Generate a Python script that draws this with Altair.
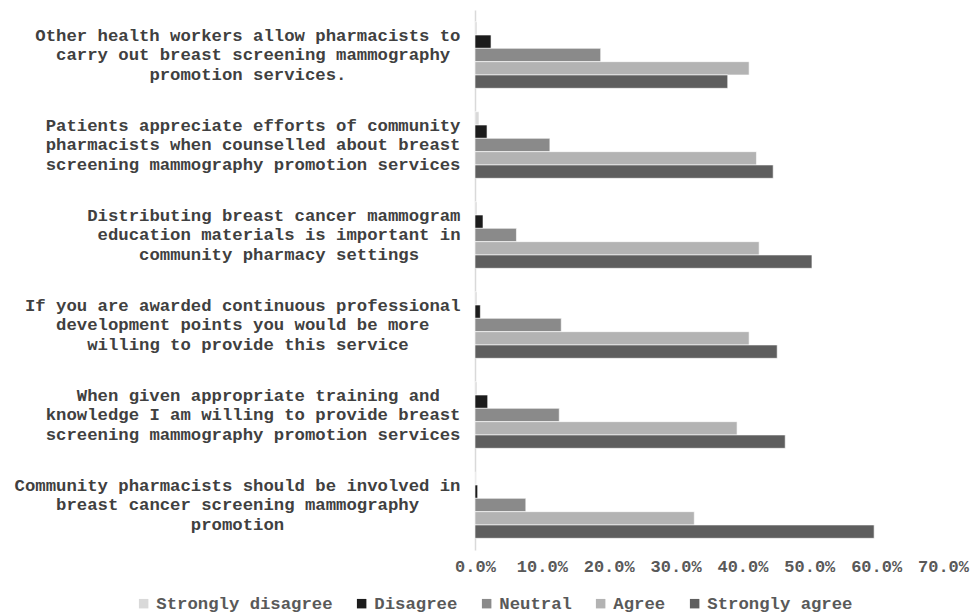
import altair as alt
import pandas as pd

questions = [
    ["Other health workers allow pharmacists to",
     "carry out breast screening mammography",
     "promotion services."],
    ["Patients appreciate efforts of community",
     "pharmacists when counselled about breast",
     "screening mammography promotion services"],
    ["Distributing breast cancer mammogram",
     "education materials is important in",
     "community pharmacy settings"],
    ["If you are awarded continuous professional",
     "development points you would be more",
     "willing to provide this service"],
    ["When given appropriate training and",
     "knowledge I am willing to provide breast",
     "screening mammography promotion services"],
    ["Community pharmacists should be involved in",
     "breast cancer screening mammography",
     "promotion"],
]

responses = ["Strongly disagree", "Disagree", "Neutral", "Agree", "Strongly agree"]
colors = ["#d9d9d9", "#1c1c1c", "#8a8a8a", "#b3b3b3", "#5e5e5e"]

strongly_disagree = [0.3, 0.6, 0.3, 0.3, 0.3, 0.0]
disagree = [2.4, 1.8, 1.2, 0.8, 1.9, 0.4]
neutral = [18.8, 11.2, 6.2, 12.9, 12.6, 7.6]
agree = [41.0, 42.1, 42.5, 41.0, 39.2, 32.8]
strongly_agree = [37.8, 44.6, 50.4, 45.2, 46.4, 59.7]

series = [strongly_disagree, disagree, neutral, agree, strongly_agree]

NBSP = "\u00a0"
ZWJ = "\u200d"


def center_block(lines):
    # right-aligned lines, padded on the right so each block reads centred
    w = max(len(l) for l in lines)
    out = []
    for l in lines:
        pad = (w - len(l)) // 2
        out.append(l + NBSP * pad + ZWJ)
    return "|".join(out)


labels = [center_block(q) for q in questions]

rows = []
for qi, lab in enumerate(labels):
    for ri, resp in enumerate(responses):
        rows.append({"question": lab, "response": resp, "value": series[ri][qi] / 100})
df = pd.DataFrame(rows)

FONT = "Liberation Mono"

bars = alt.Chart(df).mark_bar(stroke="white", strokeWidth=0.6).encode(
    y=alt.Y(
        "question:N",
        sort=labels,
        title=None,
        scale=alt.Scale(paddingInner=0.26, paddingOuter=0.13),
        axis=alt.Axis(
            labelExpr="split(datum.label, '|')",
            labelFont=FONT,
            labelFontWeight="bold",
            labelFontSize=17.3,
            labelColor="#404040",
            labelAlign="right",
            labelBaseline="middle",
            labelLineHeight=19.5,
            labelOffset=-19.5,
            labelPadding=15,
            labelLimit=0,
            ticks=False,
            domain=True,
            domainColor="#d9d9d9",
            domainWidth=1.5,
            grid=False,
        ),
    ),
    yOffset=alt.YOffset("response:N", sort=responses, scale=alt.Scale(paddingInner=0, paddingOuter=0)),
    x=alt.X(
        "value:Q",
        title=None,
        scale=alt.Scale(domain=[0, 0.7], nice=False),
        axis=alt.Axis(
            format=".1%",
            values=[0, 0.1, 0.2, 0.3, 0.4, 0.5, 0.6, 0.7],
            labelFont=FONT,
            labelFontWeight="bold",
            labelFontSize=17,
            labelColor="#595959",
            labelPadding=8,
            labelOverlap=False,
            labelFlush=False,
            ticks=False,
            domain=False,
            grid=False,
        ),
    ),
    color=alt.Color(
        "response:N",
        sort=responses,
        scale=alt.Scale(domain=responses, range=colors),
        legend=alt.Legend(
            title=None,
            orient="none",
            direction="horizontal",
            columns=5,
            legendX=-340,
            legendY=585,
            symbolType="square",
            symbolSize=90,
            symbolStrokeWidth=0,
            labelFont=FONT,
            labelFontWeight="bold",
            labelFontSize=17.3,
            labelColor="#595959",
            labelOffset=4,
            columnPadding=20,
            labelLimit=0,
        ),
    ),
)

chart = bars.properties(
    width=468,
    height=540,
    background="white",
    autosize=alt.AutoSizeParams(type="none"),
    padding={"left": 475, "top": 10, "right": 29, "bottom": 65},
).configure_view(strokeWidth=0, stroke="transparent")

chart.save("out.html", embed_options={"renderer": "svg", "actions": False})
